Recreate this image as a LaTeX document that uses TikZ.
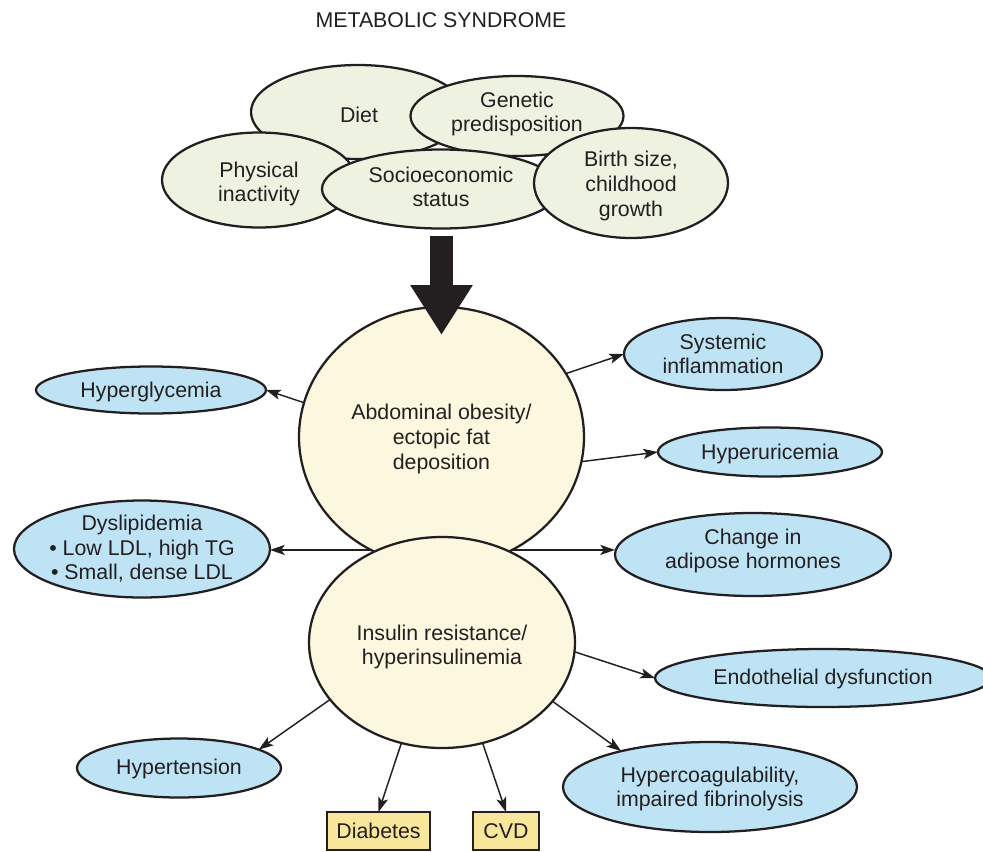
\documentclass[tikz,border=0pt]{standalone}
\usepackage{fontspec}
\setmainfont{Liberation Sans}
\usetikzlibrary{shapes.geometric,arrows.meta}
\definecolor{ink}{HTML}{231F20}
\definecolor{sage}{HTML}{EEF2E1}
\definecolor{cream}{HTML}{FCF7DF}
\definecolor{sky}{HTML}{BEE3F5}
\definecolor{straw}{HTML}{F8E79B}

\begin{document}
\begin{tikzpicture}[x=0.75pt,y=-0.75pt,
  every node/.style={text=ink, font=\fontsize{16}{18.4}\selectfont},
  blob/.style 2 args={ellipse, draw=ink, line width=1.7pt, inner sep=0pt, outer sep=0pt,
    minimum width=#1*0.75pt, minimum height=#2*0.75pt},
  factor/.style 2 args={blob={#1}{#2}, fill=sage},
  core/.style 2 args={blob={#1}{#2}, fill=cream},
  effect/.style 2 args={blob={#1}{#2}, fill=sky},
  outcome/.style 2 args={rectangle, draw=ink, line width=1.6pt, fill=straw, inner sep=0pt, outer sep=0pt,
    minimum width=#1*0.75pt, minimum height=#2*0.75pt},
  txt/.style={align=center, inner sep=0pt, yshift=-1.5pt},
  arr/.style={draw=ink, line width=1.1pt, -{Stealth[length=11pt,width=7.5pt,inset=2.5pt]}},
  feed/.style={draw=ink, line width=23*0.75pt, -{Triangle[length=50*0.75pt,width=59*0.75pt]}},
]
\useasboundingbox (0,0) rectangle (983,851);
\clip (0,0) rectangle (983,851);

% title
\node[txt] (title) at (441,18) {METABOLIC SYNDROME};

% contributing factors
\node[factor={214}{94}] (diet) at (358,112) {};
\node[txt] (diet-t) at (359,113) {Diet};
\node[factor={213}{80}] (gen) at (517,116) {};
\node[txt] (gen-t) at (517,112) {Genetic\\predisposition};
\node[factor={194}{95}] (phys) at (259,180) {};
\node[txt] (phys-t) at (259,182) {Physical\\inactivity};
\node[factor={238}{79}] (socio) at (441,189) {};
\node[txt] (socio-t) at (441,185) {Socioeconomic\\status};
\node[factor={194}{110}] (birth) at (631,183) {};
\node[txt] (birth-t) at (631,184) {Birth size,\\childhood\\growth};

% central conditions
\node[core={285}{260}] (abd) at (441.5,437) {};
\node[txt] (abd-t) at (441.5,437) {Abdominal obesity/\\ectopic fat\\deposition};
\node[core={266}{211}] (ins) at (442,642.5) {};
\node[txt] (ins-t) at (442,645) {Insulin resistance/\\hyperinsulinemia};

% block arrow from the factors into the central condition
\coordinate (feed-top) at (441.5,236);
\coordinate (feed-tip) at (441.5,335);
\draw[feed] (feed-top) -- (feed-tip);

% consequences
\node[effect={230}{47}] (hyg) at (151,390) {};
\node[txt] (hyg-t) at (151,390) {Hyperglycemia};
\node[effect={198}{72}] (sys) at (723,354) {};
\node[txt] (sys-t) at (723,352) {Systemic\\inflammation};
\node[effect={224}{49}] (hyu) at (770,452) {};
\node[txt] (hyu-t) at (770,452) {Hyperuricemia};
\node[effect={256}{97}] (dys) at (142,549) {};
\node[txt] (dys-t) at (142,547) {Dyslipidemia\\\textbullet\ Low LDL, high TG\\\textbullet\ Small, dense LDL};
\node[effect={276}{83}] (chg) at (753,554.5) {};
\node[txt] (chg-t) at (753,549) {Change in\\adipose hormones};
\node[effect={336}{58}] (endo) at (823,678) {};
\node[txt] (endo-t) at (823,677) {Endothelial dysfunction};
\node[effect={294}{90}] (hyc) at (710,787) {};
\node[txt] (hyc-t) at (710,787) {Hypercoagulability,\\impaired fibrinolysis};
\node[effect={204}{59}] (hyt) at (179,768) {};
\node[txt] (hyt-t) at (179,767) {Hypertension};

% outcomes
\node[outcome={103}{38}] (dia) at (378.5,831) {Diabetes};
\node[outcome={66}{38}] (cvd) at (506,831) {CVD};

% connectors
\draw[arr] (abd.166) -- (hyg.east);
\draw[arr] (abd.27) -- (sys.west);
\draw[arr] (abd.-10) -- (hyu.west);
\draw[arr] (abd.238) -- (abd.238 -| dys.east);
\draw[arr] (abd.302) -- (abd.302 -| chg.west);
\draw[arr] (ins.-4) -- (endo.west);
\draw[arr] (ins.-28) -- (hyc.158);
\draw[arr] (ins.207) -- (hyt.13);
\draw[arr] (ins.248) -- (dia.north);
\draw[arr] (ins.292) -- (cvd.north);
\end{tikzpicture}
\end{document}
